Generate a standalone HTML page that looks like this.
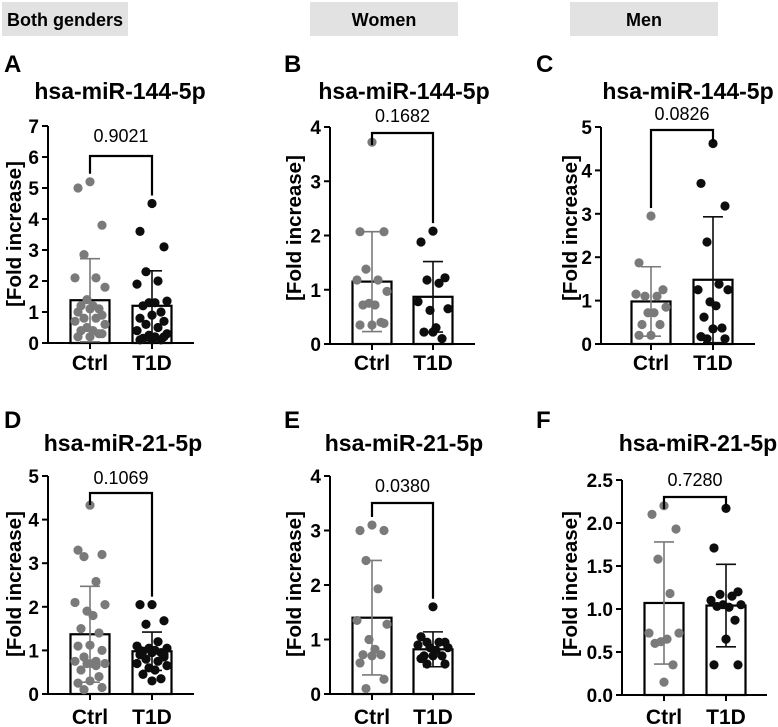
<!DOCTYPE html>
<html><head><meta charset="utf-8"><style>
body{margin:0;background:#fff;width:778px;height:727px;overflow:hidden;font-family:"Liberation Sans",Arial,sans-serif}
svg{display:block}
</style></head><body>
<svg id="fig" width="778" height="727" viewBox="0 0 778 727">
<rect x="2" y="2" width="126" height="34" fill="#e2e2e2"/>
<text x="65" y="26" text-anchor="middle" font-size="18" font-weight="bold">Both genders</text>
<rect x="310" y="2" width="148" height="34" fill="#e2e2e2"/>
<text x="384" y="26" text-anchor="middle" font-size="18" font-weight="bold">Women</text>
<rect x="570" y="2" width="148" height="34" fill="#e2e2e2"/>
<text x="644" y="26" text-anchor="middle" font-size="18" font-weight="bold">Men</text>
</svg>
<script>
// ---- data ----
const groups = ["Ctrl","T1D"];
const aCtrl=[5.2,5.0,3.8,2.85,2.1,2.1,1.8,1.4,1.2,1.2,1.1,1.1,1.0,0.9,0.8,0.8,0.7,0.6,0.5,0.4,0.4,0.3,0.2,0.2,0.3];
const aT1D=[4.5,3.6,3.1,2.3,2.0,1.9,1.35,1.3,1.3,1.2,1.0,0.9,0.8,0.7,0.6,0.5,0.4,0.3,0.25,0.2,0.15,0.1,0.1,0.1,0.2];
const bCtrl=[3.72,2.07,2.07,1.38,1.18,1.18,0.97,0.75,0.72,0.72,0.4,0.35,0.35,0.38];
const bT1D=[2.08,1.88,1.22,1.18,1.12,0.78,0.65,0.62,0.3,0.22,0.1,0.22];
const cCtrl=[2.95,1.87,1.25,1.1,1.1,1.15,0.85,0.72,0.72,0.45,0.45,0.2,0.2];
const cT1D=[4.62,3.7,3.18,2.35,1.38,1.25,1.25,0.97,0.88,0.62,0.37,0.35,0.17,0.12,0.12];
const dCtrl=[4.33,3.3,3.2,3.15,2.58,2.1,2.05,1.9,1.8,1.5,1.4,1.12,1.1,1.0,0.85,0.75,0.75,0.7,0.7,0.7,0.55,0.4,0.3,0.25,0.15,0.1,0.65];
const dT1D=[2.05,2.05,1.68,1.6,1.2,1.1,1.05,1.05,1.0,0.98,0.95,0.95,0.9,0.85,0.8,0.75,0.7,0.65,0.6,0.55,0.45,0.35,0.3,1.0,0.9];
const eCtrl=[3.1,3.0,3.0,2.45,1.93,1.35,1.28,1.0,0.82,0.72,0.72,0.7,0.57,0.27,0.1];
const eT1D=[1.6,1.05,0.95,0.95,0.95,0.9,0.85,0.85,0.8,0.7,0.7,0.7,0.65,0.55,0.55];
const fCtrl=[2.2,2.1,1.93,1.58,1.18,0.72,0.72,0.62,0.65,0.6,0.35,0.15];
const fT1D=[2.17,1.71,1.2,1.17,1.15,1.1,1.05,1.05,1.02,1.03,0.87,0.65,0.35,0.35];
const means=[[1.38,1.2],[1.15,0.87],[0.98,1.48],[1.37,0.98],[1.4,0.82],[1.07,1.04]];
const sds=[[1.34,1.13],[0.92,0.65],[0.8,1.45],[1.1,0.44],[1.05,0.32],[0.71,0.48]];
const pvals=["0.9021","0.1682","0.0826","0.1069","0.0380","0.7280"];
const ticksA=["0","1","2","3","4","5","6","7"];
const ticksB=["0","1","2","3","4"];
const ticksC=["0","1","2","3","4","5"];
const ticksD=["0","1","2","3","4","5"];
const ticksE=["0","1","2","3","4"];
const ticksF=["0.0","0.5","1.0","1.5","2.0","2.5"];
const titles=["hsa-miR-144-5p","hsa-miR-144-5p","hsa-miR-144-5p","hsa-miR-21-5p","hsa-miR-21-5p","hsa-miR-21-5p"];
const letters=["A","B","C","D","E","F"];

// ---- layout ----
const panels=[
 {ax:48,y0:343,yTop:126,max:7,ticks:ticksA,c1:90,c2:152,xEnd:194,br:156,pl:142,tx:120,ty:99,lx:4,ly:72,ytx:14,yty:234,d:[aCtrl,aT1D],xly:370},
 {ax:330,y0:344,yTop:127,max:4,ticks:ticksB,c1:372,c2:433,xEnd:475,br:133,pl:122,tx:404,ty:99,lx:284,ly:72,ytx:294,yty:228,d:[bCtrl,bT1D],xly:370},
 {ax:601,y0:344,yTop:127,max:5,ticks:ticksC,c1:651,c2:713,xEnd:755,br:130,pl:120,tx:688,ty:99,lx:536,ly:72,ytx:570,yty:228,d:[cCtrl,cT1D],xly:370},
 {ax:48,y0:694,yTop:476,max:5,ticks:ticksD,c1:90,c2:152,xEnd:194,br:493,pl:484,tx:123,ty:451,lx:4,ly:428,ytx:14,yty:584,d:[dCtrl,dT1D],xly:724},
 {ax:330,y0:694,yTop:476,max:4,ticks:ticksE,c1:372,c2:433,xEnd:475,br:503,pl:492,tx:404,ty:451,lx:284,ly:428,ytx:294,yty:584,d:[eCtrl,eT1D],xly:724},
 {ax:622,y0:695,yTop:480,max:2.5,ticks:ticksF,c1:664,c2:726,xEnd:767,br:497,pl:486,tx:698,ty:451,lx:536,ly:428,ytx:570,yty:584,d:[fCtrl,fT1D],xly:724}
];
const NS="http://www.w3.org/2000/svg";
const svg=document.getElementById('fig');
function mk(tag,attrs,parent,txt){const e=document.createElementNS(NS,tag);for(const k in attrs)e.setAttribute(k,attrs[k]);if(txt!==undefined)e.textContent=txt;(parent||svg).appendChild(e);return e;}
const offs=[0,-12,12,-6,6,-15,15,-3,3,-9,9];
panels.forEach((p,i)=>{
  const g=mk('g',{});
  
  
  const Y=v=>p.y0-(v/p.max)*(p.y0-p.yTop);
  const L=mk('text',{x:p.lx,y:p.ly,'font-size':24,'font-weight':'bold'},g,letters[i]);
  
  const T=mk('text',{x:p.tx,y:p.ty,'font-size':23,'font-weight':'bold','text-anchor':'middle'},g,titles[i]);
  
  const yt=mk('text',{x:0,y:0,'font-size':20.5,'font-weight':'bold','text-anchor':'middle','transform':`translate(${p.ytx+7},${p.yty}) rotate(-90)`},g,'[Fold increase]');
  
  const ya=mk('line',{x1:p.ax,x2:p.ax,y1:p.yTop,y2:p.y0+1,stroke:'#000','stroke-width':2},g);
  
  const xa=mk('line',{x1:p.ax-6,x2:p.xEnd,y1:p.y0,y2:p.y0,stroke:'#000','stroke-width':2},g);
  
  const step=p.max/(p.ticks.length-1);
  p.ticks.forEach((t,k)=>{
    const y=Y(k*step);
    mk('line',{x1:p.ax-6,x2:p.ax,y1:y,y2:y,stroke:'#000','stroke-width':2},g);
    const tl=mk('text',{x:p.ax-9,y:y+7,'font-size':19,'font-weight':'bold','text-anchor':'end'},g,t);
    
  });
  [p.c1,p.c2].forEach((cx,j)=>{
    const m=means[i][j],s=sds[i][j];
    const bar=mk('rect',{x:cx-19.5,y:Y(m),width:39,height:p.y0-Y(m),fill:'#fff',stroke:'#000','stroke-width':2.2},g);
    
    mk('line',{x1:cx,x2:cx,y1:p.y0,y2:p.y0+6,stroke:'#000','stroke-width':2},g);
    const xl=mk('text',{x:cx,y:p.xly,'font-size':21,'font-weight':'bold','text-anchor':'middle'},g,groups[j]);
    
    const col=j===0?'#7a7a7a':'#0d0d0d';
    p.d[j].forEach((v,k)=>{
      const c=mk('circle',{cx:cx+offs[k%offs.length],cy:Y(v),r:4.6,fill:col},g);
      
    });
    const lo=Math.max(0,m-s),hi=m+s;
    const eb=mk('path',{d:`M${cx},${Y(lo)}V${Y(hi)}M${cx-10},${Y(hi)}H${cx+10}M${cx-10},${Y(lo)}H${cx+10}`,stroke:col,'stroke-width':1.6,fill:'none'},g);
    
  });
  const topC=Y(Math.max(...p.d[0]))-8,topT=Y(Math.max(...p.d[1]))-8;
  const br=mk('path',{d:`M${p.c1},${Math.max(topC,p.br+12)}V${p.br}H${p.c2}V${Math.max(topT,p.br+12)}`,stroke:'#000','stroke-width':2.2,fill:'none'},g);
  
  const pv=mk('text',{x:(p.c1+p.c2)/2,y:p.pl,'font-size':18,'text-anchor':'middle'},g,pvals[i]);
  
});
</script>
</body></html>
